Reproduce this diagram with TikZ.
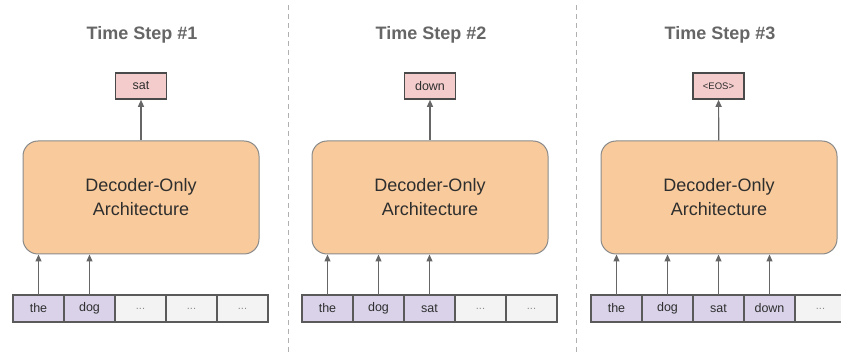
\documentclass[tikz,border=0pt]{standalone}
\usepackage{fontspec}
\setmainfont{Liberation Sans}
\usepackage{xcolor}
\usepackage{tikz}
\usetikzlibrary{arrows.meta, positioning}
\definecolor{stepcolor0}{HTML}{666666}
\definecolor{stepcolor1}{HTML}{F9CB9C}
\definecolor{stepcolor2}{HTML}{8A8A8A}
\definecolor{stepcolor3}{HTML}{F4CCCC}
\definecolor{stepcolor4}{HTML}{4A4A4A}
\definecolor{stepcolor5}{HTML}{D9D2E9}
\definecolor{stepcolor6}{HTML}{F3F3F3}
\definecolor{stepcolor7}{HTML}{5A5A5A}
\definecolor{stepcolor8}{HTML}{B0B0B0}
\definecolor{stepcolor9}{HTML}{2E2E2E}
\tikzset{
  title_text/.style={font=\fontsize{18}{22}\selectfont\bfseries, text=stepcolor0},
  decoder_box/.style={draw=stepcolor2, fill=stepcolor1, line width=1pt, rounded corners=15pt, minimum width=236pt, minimum height=113pt, align=center, font=\fontsize{18}{24}\selectfont, text=stepcolor9},
  output_box/.style={draw=stepcolor4, fill=stepcolor3, line width=1.6pt, minimum width=51pt, minimum height=26pt, inner sep=0pt, font=\fontsize{12.5}{14}\selectfont, text=stepcolor9},
  token_used/.style={draw=stepcolor7, fill=stepcolor5, line width=1.4pt, minimum width=51pt, minimum height=27pt, inner sep=0pt, outer sep=0pt, font=\fontsize{12.5}{14}\selectfont, text=stepcolor9},
  token_empty/.style={token_used, fill=stepcolor6, font=\fontsize{11}{12}\selectfont, text=stepcolor2},
  flow_arrow/.style={draw=stepcolor0, line width=1.2pt, -{Triangle[length=7pt, width=6pt]}},
  step_divider/.style={draw=stepcolor8, line width=1pt, dash pattern=on 5pt off 4pt}
}
\begin{document}
\begin{tikzpicture}[x=1pt, y=-1pt]
\useasboundingbox (0,0) rectangle (841,355);
% dividers between time steps
\coordinate (divider_1_top) at (288,5);
\coordinate (divider_1_bottom) at (288,355);
\coordinate (divider_2_top) at (576,5);
\coordinate (divider_2_bottom) at (576,355);
\draw[step_divider] (divider_1_top) -- (divider_1_bottom);
\draw[step_divider] (divider_2_top) -- (divider_2_bottom);
% time step 1
\node[title_text] (title_1) at (142,35) {Time Step \#1};
\node[output_box] (out_1) at (141,86) {sat};
\node[decoder_box] (decoder_1) at (141,197.5) {Decoder-Only\\Architecture};
\node[token_used] (tok_1_1) at (38.5,308.5) {the};
\node[token_used, right=0pt of tok_1_1] (tok_1_2) {dog};
\node[token_empty, right=0pt of tok_1_2] (tok_1_3) {...};
\node[token_empty, right=0pt of tok_1_3] (tok_1_4) {...};
\node[token_empty, right=0pt of tok_1_4] (tok_1_5) {...};
\draw[flow_arrow] (decoder_1) -- (out_1);
\draw[flow_arrow] (tok_1_1.north) -- (tok_1_1 |- decoder_1.south);
\draw[flow_arrow] (tok_1_2.north) -- (tok_1_2 |- decoder_1.south);
% time step 2
\node[title_text] (title_2) at (431,35) {Time Step \#2};
\node[output_box] (out_2) at (430,86) {down};
\node[decoder_box] (decoder_2) at (430,197.5) {Decoder-Only\\Architecture};
\node[token_used] (tok_2_1) at (327.5,308.5) {the};
\node[token_used, right=0pt of tok_2_1] (tok_2_2) {dog};
\node[token_used, right=0pt of tok_2_2] (tok_2_3) {sat};
\node[token_empty, right=0pt of tok_2_3] (tok_2_4) {...};
\node[token_empty, right=0pt of tok_2_4] (tok_2_5) {...};
\draw[flow_arrow] (decoder_2) -- (out_2);
\draw[flow_arrow] (tok_2_1.north) -- (tok_2_1 |- decoder_2.south);
\draw[flow_arrow] (tok_2_2.north) -- (tok_2_2 |- decoder_2.south);
\draw[flow_arrow] (tok_2_3.north) -- (tok_2_3 |- decoder_2.south);
% time step 3
\node[title_text] (title_3) at (720,35) {Time Step \#3};
\node[output_box, font=\fontsize{9.5}{11}\selectfont] (out_3) at (718.5,86) {<EOS>};
\node[decoder_box] (decoder_3) at (719,197.5) {Decoder-Only\\Architecture};
\node[token_used] (tok_3_1) at (616.5,308.5) {the};
\node[token_used, right=0pt of tok_3_1] (tok_3_2) {dog};
\node[token_used, right=0pt of tok_3_2] (tok_3_3) {sat};
\node[token_used, right=0pt of tok_3_3] (tok_3_4) {down};
\node[token_empty, right=0pt of tok_3_4] (tok_3_5) {...};
\draw[flow_arrow] (decoder_3) -- (out_3);
\draw[flow_arrow] (tok_3_1.north) -- (tok_3_1 |- decoder_3.south);
\draw[flow_arrow] (tok_3_2.north) -- (tok_3_2 |- decoder_3.south);
\draw[flow_arrow] (tok_3_3.north) -- (tok_3_3 |- decoder_3.south);
\draw[flow_arrow] (tok_3_4.north) -- (tok_3_4 |- decoder_3.south);
\end{tikzpicture}
\end{document}
